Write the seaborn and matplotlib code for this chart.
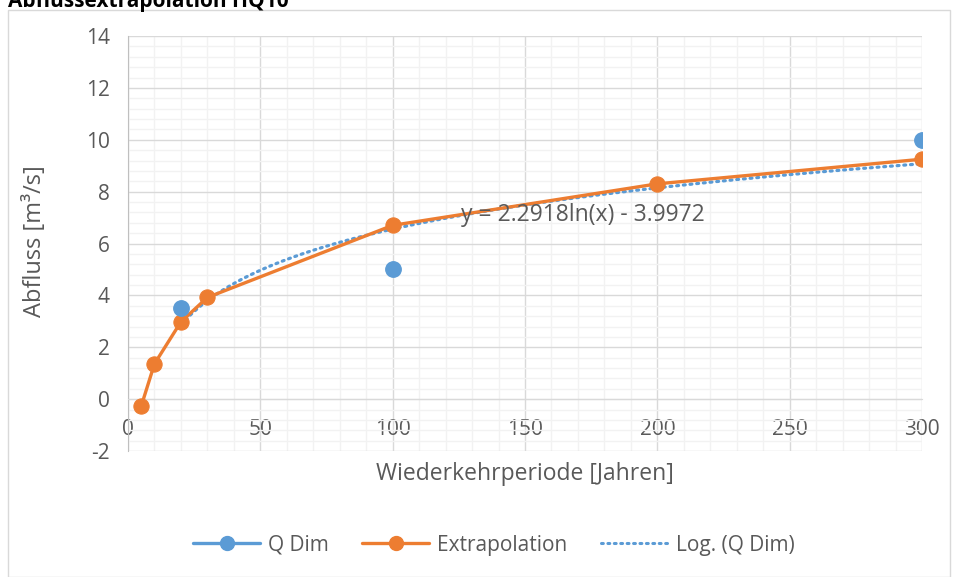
import numpy as np
import pandas as pd
import matplotlib
matplotlib.use("Agg")
import matplotlib.pyplot as plt
from matplotlib.lines import Line2D
from matplotlib.patches import Rectangle
import seaborn as sns

# data
q_dim_jahre = [20, 100, 300]
q_dim_abfluss = [3.5, 5.0, 10.0]
extra_jahre = [5, 10, 20, 30, 100, 200, 300]
extra_abfluss = [-0.27, 1.36, 2.98, 3.92, 6.7, 8.3, 9.25]

title = "Abflussextrapolation HQ10"
x_label = "Wiederkehrperiode [Jahren]"
y_label = "Abfluss [m³/s]"

blue = "#5B9BD5"
orange = "#ED7D31"
text_col = "#595959"

sns.set_style("white")
plt.rcParams["font.family"] = ["Open Sans", "DejaVu Sans"]
plt.rcParams["axes.unicode_minus"] = False

fig = plt.figure(figsize=(9.59, 5.77), dpi=100)
ax = fig.add_axes([128 / 959, 1 - 451 / 577, (922 - 128) / 959, (451 - 36) / 577])

# log trendline fitted from Q Dim
slope, icpt = np.polyfit(np.log(q_dim_jahre), q_dim_abfluss, 1)
tx = np.linspace(q_dim_jahre[0], q_dim_jahre[-1], 200)
trend = pd.DataFrame({"x": tx, "y": slope * np.log(tx) + icpt})

sns.lineplot(data=trend, x="x", y="y", ax=ax, color=blue, linestyle=(0, (0.6, 1.5)),
             linewidth=2.3, dash_capstyle="round", zorder=3)
extra_df = pd.DataFrame({"x": extra_jahre, "y": extra_abfluss})
sns.lineplot(data=extra_df, x="x", y="y", ax=ax, color=orange, linewidth=2.4,
             marker="o", markersize=11, markeredgecolor=orange, zorder=4)
qdim_df = pd.DataFrame({"x": q_dim_jahre, "y": q_dim_abfluss})
sns.scatterplot(data=qdim_df, x="x", y="y", ax=ax, color=blue, s=125,
                edgecolor=blue, zorder=5)

ax.set_xlim(0, 300)
ax.set_ylim(-2, 14)
ax.set_xticks(np.arange(0, 301, 50))
ax.set_yticks(np.arange(-2, 15, 2))
ax.set_xticks(np.arange(0, 301, 10), minor=True)
ax.set_yticks(np.arange(-2, 14.01, 0.4), minor=True)
ax.grid(which="minor", color="#F2F2F2", linewidth=1.0)
ax.grid(which="major", color="#D9D9D9", linewidth=1.0)
ax.set_axisbelow(True)

for s in ["top", "right"]:
    ax.spines[s].set_visible(False)
ax.spines["left"].set_color("#BFBFBF")
ax.spines["bottom"].set_position(("data", 0))
ax.spines["bottom"].set_color("#D9D9D9")
ax.tick_params(which="both", length=0, colors=text_col, labelsize=15)
ax.tick_params(axis="x", pad=14)
ax.tick_params(axis="y", pad=13)
ax.set_xlabel("")
ax.set_ylabel("")

fig.text(525 / 959, 1 - 474 / 577, x_label, ha="center", va="center", fontsize=16.5, color=text_col)
fig.text(35 / 959, 1 - 241 / 577, y_label, ha="center", va="center", rotation=90,
         fontsize=17, color=text_col)
ax.text(172, 7.1, f"y = {slope:.4f}ln(x) - {abs(icpt):.4f}", ha="center", va="center",
        fontsize=16.5, color=text_col, zorder=6)

fig.text(8 / 959, 1 - 1 / 577, title, ha="left", va="center", fontsize=15, fontweight="bold", color="black")

fig.patches.append(Rectangle((8 / 959, 0), 942 / 959, 1 - 10 / 577, transform=fig.transFigure,
                             fill=False, edgecolor="#D9D9D9", linewidth=1))

handles = [
    Line2D([], [], color=blue, linewidth=2.4, marker="o", markersize=10),
    Line2D([], [], color=orange, linewidth=2.4, marker="o", markersize=10),
    Line2D([], [], color=blue, linewidth=2.2, linestyle=(0, (0.6, 1.5)), dash_capstyle="round"),
]
fig.legend(handles, ["Q Dim", "Extrapolation", "Log. (Q Dim)"], loc="center",
           bbox_to_anchor=(494 / 959, 1 - 545 / 577), ncol=3, frameon=False,
           fontsize=15, labelcolor=text_col, handlelength=3.2, columnspacing=1.6, handletextpad=0.4)

fig.savefig("out.png", dpi=100)
